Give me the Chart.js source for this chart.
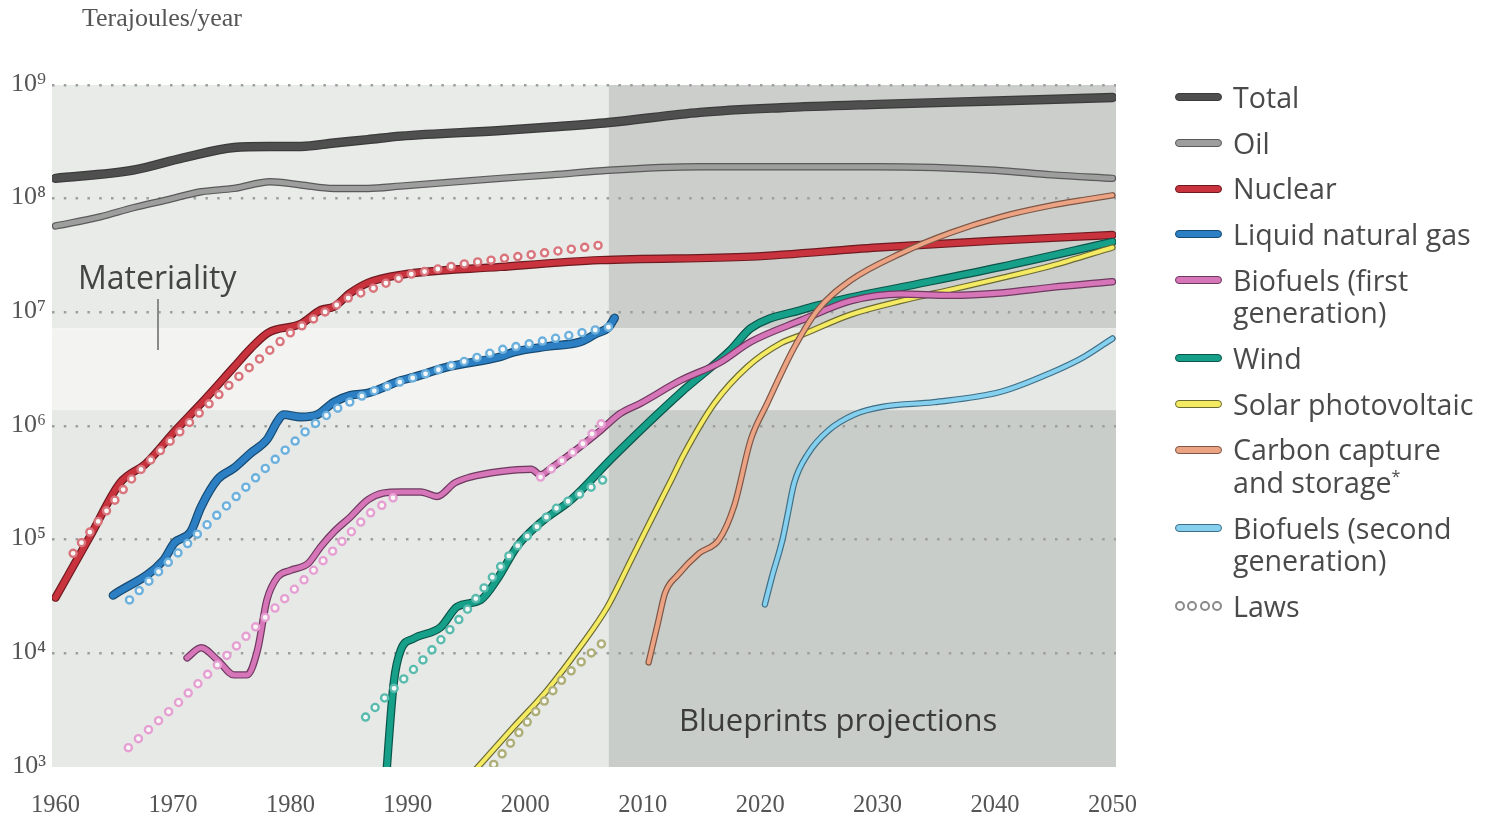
<!DOCTYPE html>
<html><head><meta charset="utf-8">
<script src="https://cdn.jsdelivr.net/npm/chart.js@4.4.1/dist/chart.umd.min.js"></script>
<style>
html,body{margin:0;padding:0;background:#fff;}
#wrap{position:relative;width:1489px;height:819px;overflow:hidden;}
#cv{position:absolute;left:0;top:0;}
#unit{position:absolute;left:82px;top:3px;font:26px "Liberation Serif",serif;color:#555;white-space:nowrap;}
#legend{position:absolute;left:1175px;top:81px;font-family:"Open Sans",Lato,sans-serif;font-size:28.6px;color:#4a4a4a;}
.item{display:flex;align-items:flex-start;margin-bottom:13.2px;line-height:32.5px;white-space:nowrap;}
.sw{width:47px;height:8px;border-radius:4px;box-sizing:border-box;margin-top:12.25px;margin-right:11px;flex:none;border-width:1.5px;border-style:solid;}
.laws{display:flex;width:47px;margin-top:11.5px;margin-right:11px;flex:none;justify-content:space-between;}
.laws span{display:block;width:10px;height:10px;border-radius:50%;box-sizing:border-box;border:2.2px solid #8a8a8a;background:#fff;}
.ast{font-size:16px;line-height:0;position:relative;top:-11px;}
</style></head>
<body>
<div id="wrap">
<canvas id="cv" width="1489" height="819"></canvas>
<div id="unit">Terajoules/year</div>
<div id="legend"></div>
</div>
<script>
// ---------- axes ----------
const xTickValues = [1960,1970,1980,1990,2000,2010,2020,2030,2040,2050];
const yTickValues = [1e3,1e4,1e5,1e6,1e7,1e8,1e9];
const yTickLabels = ['10\u00B3','10\u2074','10\u2075','10\u2076','10\u2077','10\u2078','10\u2079'];
const projectionStartYear = 2007.1;
const materialityBand = [1.38e6, 7.24e6];

// ---------- series (years / terajoules per year) ----------
const totalYears  = [1960,1966.6,1970.9,1975.2,1978.1,1980.9,1983.7,1986.6,1989.4,1997.9,2002.2,2007.1,2014.9,2021.8,2030,2040,2050];
const totalValues = [1.51e8,1.78e8,2.29e8,2.82e8,2.88e8,2.88e8,3.09e8,3.31e8,3.55e8,3.98e8,4.27e8,4.68e8,5.75e8,6.31e8,6.76e8,7.24e8,7.76e8];

const oilYears  = [1960,1963.8,1966.6,1969.5,1972.4,1975.2,1978.3,1980.9,1983.7,1986.6,1989.4,1997.9,2002.2,2007.1,2014.9,2021.8,2030,2040,2044.8,2050];
const oilValues = [5.75e7,6.92e7,8.32e7,9.77e7,1.15e8,1.23e8,1.41e8,1.32e8,1.23e8,1.23e8,1.29e8,1.51e8,1.62e8,1.78e8,1.91e8,1.91e8,1.91e8,1.78e8,1.62e8,1.51e8];

const nuclearYears  = [1960,1962.9,1965.5,1967.7,1970.2,1972.4,1975.2,1976.6,1978.1,1980.9,1982.6,1983.7,1985.1,1986.6,1989.4,1997.9,2006.4,2019.2,2030,2040,2050];
const nuclearValues = [3.09e4,1.05e5,3.16e5,4.68e5,9.12e5,1.58e6,3.31e6,4.79e6,6.61e6,7.94e6,1.05e7,1.12e7,1.48e7,1.82e7,2.14e7,2.51e7,2.88e7,3.09e7,3.72e7,4.27e7,4.79e7];
const nuclearLawYears  = [1961.5,1966.6,1972.3,1975.2,1980,1985,1990,1995,2000,2007];
const nuclearLawValues = [7.59e4,3.55e5,1.32e6,2.51e6,6.61e6,1.35e7,2.14e7,2.69e7,3.16e7,3.98e7];

const lngYears  = [1964.9,1969.2,1970.1,1971.5,1972.4,1973.8,1975.2,1976.6,1978.0,1978.9,1979.4,1980.9,1982.3,1983.7,1985.1,1986.6,1989.4,1990.5,1993.4,1997.9,1999,2001.9,2004.7,2006.0,2007.1,2007.6];
const lngValues = [3.24e4,6.61e4,9.33e4,1.17e5,1.95e5,3.39e5,4.27e5,5.75e5,7.59e5,1.10e6,1.26e6,1.20e6,1.26e6,1.62e6,1.86e6,1.95e6,2.51e6,2.69e6,3.31e6,4.07e6,4.47e6,5.01e6,5.50e6,6.46e6,7.41e6,8.91e6];
const lngLawYears  = [1966.3,1971.8,1978.0,1981.7,1983.7,1986.6,1989.4,1997.9,2007.1];
const lngLawValues = [2.95e4,1.05e5,4.37e5,9.77e5,1.38e6,1.95e6,2.45e6,4.68e6,7.41e6];

const bio1Years  = [1971.2,1972.4,1973.8,1975.2,1976.3,1977.2,1978.0,1978.9,1980.0,1981.5,1982.6,1983.7,1985.1,1986.6,1987.9,1989.4,1991.1,1992.5,1994.0,1995.3,1997.9,2000.5,2001.3,2002.2,2004.7,2006.4,2008.1,2009.8,2013.2,2016.6,2019.2,2023.5,2027.7,2032,2036.2,2040.5,2044.8,2050];
const bio1Values = [9.12e3,1.12e4,8.71e3,6.46e3,6.46e3,1.07e4,2.95e4,4.68e4,5.37e4,6.17e4,8.71e4,1.17e5,1.58e5,2.24e5,2.57e5,2.63e5,2.63e5,2.40e5,3.16e5,3.55e5,3.98e5,4.17e5,3.72e5,4.27e5,6.61e5,9.12e5,1.29e6,1.58e6,2.51e6,3.63e6,5.50e6,8.51e6,1.26e7,1.45e7,1.41e7,1.48e7,1.66e7,1.86e7];
const bio1LawYears  = [1966.2,1970.1,1973.8,1977.2,1980.9,1983.7,1986.6,1989.2,1995,2001.3,2004.7,2007.0];
const bio1LawValues = [1.48e3,3.39e3,7.94e3,1.78e4,4.17e4,8.13e4,1.66e5,2.51e5,null,3.55e5,6.61e5,1.20e6];

const windYears  = [1988.0,1988.8,1989.4,1990.5,1992.8,1994.2,1996.2,1997.6,1999.3,2001.3,2003.9,2007.5,2013.2,2017.5,2019.2,2023.5,2027.7,2032,2040.5,2050];
const windValues = [5.01e2,5.50e3,1.07e4,1.35e4,1.70e4,2.57e4,2.95e4,4.47e4,8.71e4,1.41e5,2.24e5,5.37e5,1.95e6,4.68e6,7.24e6,1.05e7,1.35e7,1.66e7,2.51e7,4.17e7];
const windLawYears  = [1986.4,1989.1,1991.1,1994.8,1999,2002.4,2007];
const windLawValues = [2.75e3,5.25e3,8.32e3,2.24e4,8.13e4,1.82e5,3.55e5];

const solarYears  = [1995.1,1999,2001.9,2004.7,2007,2009,2010.4,2012.4,2013.5,2016.1,2018.9,2021.8,2023.5,2027.7,2032,2036.2,2040.5,2044.8,2050];
const solarValues = [7.94e2,2.24e3,4.79e3,1.15e4,2.57e4,6.61e4,1.29e5,3.31e5,5.62e5,1.58e6,3.31e6,5.37e6,6.31e6,9.55e6,1.26e7,1.58e7,2.00e7,2.57e7,3.72e7];
const solarLawYears  = [1996.6,2000.5,2003.3,2007.0];
const solarLawValues = [8.51e2,2.75e3,6.17e3,1.35e4];

const ccsYears  = [2010.5,2011.3,2011.9,2013.0,2014.8,2016.5,2017.8,2019.2,2020.6,2022.9,2024.9,2027.7,2032,2036.2,2040.5,2044.8,2047.6,2050];
const ccsValues = [8.32e3,1.86e4,3.39e4,4.90e4,7.59e4,1.00e5,2.00e5,7.59e5,1.58e6,4.90e6,1.05e7,1.91e7,3.31e7,5.01e7,6.92e7,8.71e7,9.77e7,1.07e8];

const bio2Years  = [2020.4,2021.0,2021.9,2022.3,2022.9,2024.1,2025.8,2028,2030.5,2034.8,2040.5,2044.8,2047.6,2050];
const bio2Values = [2.69e4,4.68e4,1.00e5,1.58e5,3.16e5,5.75e5,9.12e5,1.26e6,1.48e6,1.62e6,2.00e6,2.95e6,4.07e6,5.89e6];

// ---------- styles ----------
const lineSeries = [ // drawn top first
  {key:'ccs',     years:ccsYears,     values:ccsValues,     color:'#eba383', outline:'#7d5646', width:4},
  {key:'bio2',    years:bio2Years,    values:bio2Values,    color:'#86d0ef', outline:'#3f6f86', width:4},
  {key:'bio1',    years:bio1Years,    values:bio1Values,    color:'#d675b8', outline:'#6e3a60', width:5},
  {key:'solar',   years:solarYears,   values:solarValues,   color:'#f5eb63', outline:'#6b6a35', width:4},
  {key:'wind',    years:windYears,    values:windValues,    color:'#16a08a', outline:'#0c5449', width:6},
  {key:'lng',     years:lngYears,     values:lngValues,     color:'#2b7fc2', outline:'#174a72', width:6.5},
  {key:'nuclear', years:nuclearYears, values:nuclearValues, color:'#c8333d', outline:'#6e1a20', width:6},
  {key:'oil',     years:oilYears,     values:oilValues,     color:'#9e9e9e', outline:'#5a5a5a', width:5},
  {key:'total',   years:totalYears,   values:totalValues,   color:'#4f4f4f', outline:'#3b3b3b', width:7}
];
const lawSeries = [
  {years:nuclearLawYears, values:nuclearLawValues, color:'#d9747c'},
  {years:lngLawYears,     values:lngLawValues,     color:'#6cb0de'},
  {years:bio1LawYears,    values:bio1LawValues,    color:'#e69fd2'},
  {years:windLawYears,    values:windLawValues,    color:'#58bbae'},
  {years:solarLawYears,   values:solarLawValues,   color:'#aeae78'}
];
const legendEntries = [
  {key:'total',   lines:['Total']},
  {key:'oil',     lines:['Oil']},
  {key:'nuclear', lines:['Nuclear']},
  {key:'lng',     lines:['Liquid natural gas']},
  {key:'bio1',    lines:['Biofuels (first','generation)']},
  {key:'wind',    lines:['Wind']},
  {key:'solar',   lines:['Solar photovoltaic']},
  {key:'ccs',     lines:['Carbon capture','and storage*']},
  {key:'bio2',    lines:['Biofuels (second','generation)']},
  {key:'laws',    lines:['Laws']}
];

function pts(years, values){ return years.map((x,i)=>({x:x, y:values[i]})); }

const datasets = [];
let order = 0;
lawSeries.forEach(s=>{
  const p = pts(s.years, s.values);
  datasets.push({data:p, borderColor:'#f8f8f6', borderWidth:4.8, borderDash:[0,13.5], borderCapStyle:'round', pointRadius:0, spanGaps:false, order:order++, clip:0});
  datasets.push({data:p, borderColor:s.color, borderWidth:9.5, borderDash:[0,13.5], borderCapStyle:'round', pointRadius:0, spanGaps:false, order:order++, clip:0});
});
lineSeries.forEach(s=>{
  const p = pts(s.years, s.values);
  datasets.push({data:p, borderColor:s.color, borderWidth:s.width, borderCapStyle:'round', pointRadius:0, cubicInterpolationMode:'monotone', order:order++, clip:0});
  datasets.push({data:p, borderColor:s.outline, borderWidth:s.width+2.4, borderCapStyle:'round', pointRadius:0, cubicInterpolationMode:'monotone', order:order++, clip:0});
});

const decor = {
  id:'decor',
  beforeDraw(chart){
    const {ctx, chartArea:a, scales:{x, y}} = chart;
    const xs = x.getPixelForValue(projectionStartYear);
    const yHi = y.getPixelForValue(materialityBand[1]);
    const yLo = y.getPixelForValue(materialityBand[0]);
    ctx.save();
    const fill=(c,x0,y0,x1,y1)=>{ctx.fillStyle=c;ctx.fillRect(x0,y0,x1-x0,y1-y0);};
    fill('#e8ebe8', a.left, a.top, xs, yHi);
    fill('#f3f4f2', a.left, yHi, xs, yLo);
    fill('#e6e9e6', a.left, yLo, xs, a.bottom);
    fill('#cbcecb', xs, a.top, a.right, yHi);
    fill('#e6e8e6', xs, yHi, a.right, yLo);
    fill('#c9cdc9', xs, yLo, a.right, a.bottom);
    ctx.restore();
  },
  beforeDatasetsDraw(chart){
    const {ctx, chartArea:a} = chart;
    ctx.save();
    ctx.fillStyle = '#444';
    ctx.font = '32px "Open Sans", Lato, sans-serif';
    ctx.textBaseline = 'alphabetic';
    ctx.textAlign = 'left';
    ctx.fillText('Materiality', a.left + 26, 289);
    ctx.strokeStyle = '#8a8a8a';
    ctx.lineWidth = 2;
    ctx.beginPath(); ctx.moveTo(a.left + 106, 299); ctx.lineTo(a.left + 106, 350); ctx.stroke();
    ctx.font = '31px "Open Sans", Lato, sans-serif';
    ctx.fillStyle = '#3c3c3c';
    ctx.fillText('Blueprints projections', 679, 731);
    ctx.restore();
  }
};

new Chart(document.getElementById('cv'), {
  type:'line',
  data:{datasets},
  options:{
    responsive:false,
    animation:false,
    events:[],
    layout:{padding:{left:0, right:373, top:85, bottom:0}},
    plugins:{legend:{display:false}, tooltip:{enabled:false}},
    scales:{
      x:{
        type:'linear', min:1959.7, max:2050.3,
        afterBuildTicks(s){ s.ticks = xTickValues.map(v=>({value:v})); },
        afterFit(s){ s.height = 52; s.paddingLeft=0; s.paddingRight=0; },
        grid:{display:false, drawTicks:false},
        border:{display:false},
        ticks:{autoSkip:false, maxRotation:0, padding:24, color:'#555', font:{family:'"Liberation Serif", serif', size:24.5}, callback:(v)=>String(v)}
      },
      y:{
        type:'logarithmic', min:1e3, max:1e9,
        afterBuildTicks(s){ s.ticks = yTickValues.map(v=>({value:v})); },
        afterFit(s){ s.width = 52; s.paddingTop=0; s.paddingBottom=0; },
        grid:{drawTicks:false, lineWidth:2.5, color:(c)=> (c.tick && c.tick.value===1e3) ? 'rgba(0,0,0,0)' : '#9d9f9d'},
        border:{display:false, dash:[2.5,9.3]},
        ticks:{padding:6, labelOffset:-1, color:'#555', font:{family:'"Liberation Serif", serif', size:26},
          callback:(v, i)=> yTickLabels[yTickValues.indexOf(v)] || ''}
      }
    }
  },
  plugins:[decor]
});

// ---------- legend ----------
const legend = document.getElementById('legend');
legendEntries.forEach(e=>{
  const item = document.createElement('div'); item.className='item';
  if (e.key==='laws'){
    const sw = document.createElement('div'); sw.className='laws';
    for (let i=0;i<4;i++) sw.appendChild(document.createElement('span'));
    item.appendChild(sw);
  } else {
    const s = lineSeries.find(l=>l.key===e.key);
    const sw = document.createElement('div'); sw.className='sw';
    sw.style.background = s.color; sw.style.borderColor = s.outline;
    item.appendChild(sw);
  }
  const t = document.createElement('div');
  t.innerHTML = e.lines.map(l=>l.replace('*','<span class="ast">*</span>')).join('<br>');
  item.appendChild(t);
  legend.appendChild(item);
});
</script>
</body></html>
